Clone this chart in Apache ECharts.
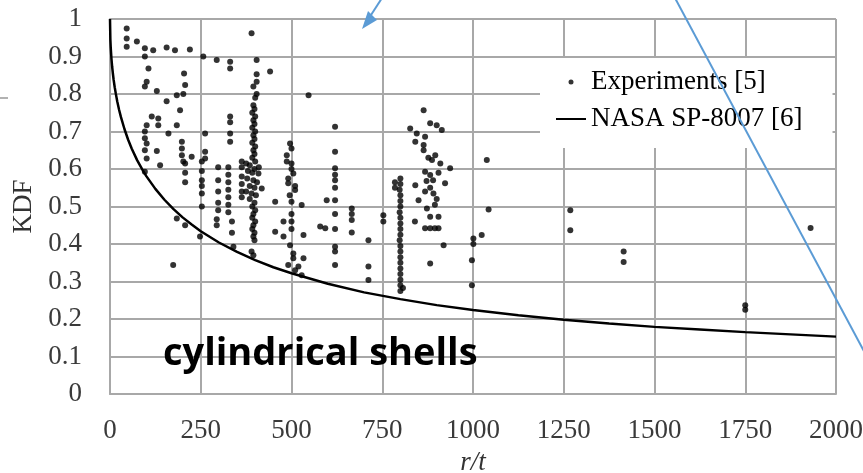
<!DOCTYPE html>
<html>
<head>
<meta charset="utf-8">
<script src="https://cdn.jsdelivr.net/npm/echarts@6/dist/echarts.min.js"></script>
<style>
  html, body { margin: 0; padding: 0; background: #fff; }
  #chart { width: 863px; height: 473px; }
</style>
</head>
<body>
<div id="chart"></div>
<script>
// Experimental knock-down factors (r/t, KDF)
const expRt = [
  46, 46, 46, 74, 96, 119, 96, 156, 179, 220, 257, 294, 331, 331, 106, 204, 101, 96, 207, 129,
  184, 202, 156, 193, 115, 133, 101, 133, 184, 96, 161, 96, 101, 129, 96, 101, 198, 198, 198, 202,
  225, 262, 262, 262, 331, 331, 331, 331, 363,
  138, 96, 174, 184, 207, 248, 253, 253, 253, 253, 253, 253, 298, 298, 298, 298, 298, 294, 294,
  326, 326, 326, 326, 326, 326, 326, 336, 336, 340, 363, 363, 363, 363, 363, 207, 207, 207,
  390, 404, 441, 404, 404, 395, 404, 400, 395, 398, 392, 400, 395, 398, 392, 400, 395, 398, 392,
  400, 395, 398, 392, 400, 375, 385, 398, 410, 380, 392, 409, 378, 395, 405, 385, 398, 418, 375,
  390, 402, 385, 398, 392, 400, 395, 392, 400, 395, 392, 398, 395, 398, 390, 395,
  496, 500, 487, 487, 500, 500, 505, 491, 491, 510, 510, 495, 500, 528, 455, 478, 500, 500, 455,
  478, 500, 533, 496, 505, 533, 491, 519, 528, 510, 505,
  620, 620, 620, 620, 620, 620, 597, 620, 593, 579, 620, 620, 620, 620, 620, 547,
  666, 666, 666, 666, 712, 712, 712, 753, 753,
  800, 800, 798, 800, 800, 800, 798, 800, 800, 800, 800, 798, 800, 800, 800, 800, 800, 800, 800,
  800, 807, 800, 785, 785,
  864, 827, 882, 900, 914, 845, 868, 841, 864, 864, 896, 887, 910, 937, 868, 882, 872, 882, 891,
  900, 923, 841, 850, 873, 882, 905, 840, 868, 882, 895, 905, 919, 882, 877, 905, 890, 868, 895,
  1001, 1024, 1001, 997, 997, 1038, 1043,
  1268, 1268, 1415, 1415, 1750, 1750, 1930
];
const expKdf = [
  0.975, 0.948, 0.926, 0.94, 0.922, 0.917, 0.90, 0.924, 0.917, 0.919, 0.90, 0.891, 0.886, 0.868, 0.868, 0.855, 0.833, 0.82, 0.824, 0.808,
  0.797, 0.80, 0.781, 0.757, 0.74, 0.735, 0.717, 0.717, 0.717, 0.70, 0.695, 0.682, 0.668, 0.648, 0.65, 0.628, 0.673, 0.655, 0.637, 0.62,
  0.633, 0.695, 0.646, 0.628, 0.74, 0.725, 0.695, 0.673, 0.62,
  0.61, 0.593, 0.344, 0.468, 0.45, 0.42, 0.62, 0.595, 0.57, 0.555, 0.535, 0.50, 0.605, 0.57, 0.54, 0.51, 0.49, 0.466, 0.45,
  0.605, 0.585, 0.565, 0.545, 0.525, 0.505, 0.485, 0.46, 0.43, 0.393, 0.605, 0.58, 0.56, 0.54, 0.525, 0.615, 0.59, 0.565,
  0.962, 0.891, 0.86, 0.853, 0.833, 0.82, 0.80, 0.79, 0.77, 0.76, 0.75, 0.74, 0.73, 0.72, 0.71, 0.70, 0.69, 0.68, 0.67,
  0.66, 0.65, 0.64, 0.63, 0.62, 0.615, 0.61, 0.60, 0.605, 0.595, 0.59, 0.588, 0.575, 0.57, 0.565, 0.555, 0.55, 0.548, 0.54,
  0.535, 0.53, 0.52, 0.51, 0.50, 0.49, 0.48, 0.47, 0.46, 0.45, 0.44, 0.43, 0.42, 0.41, 0.38, 0.37,
  0.668, 0.655, 0.637, 0.62, 0.615, 0.60, 0.588, 0.575, 0.562, 0.555, 0.544, 0.53, 0.513, 0.504, 0.513, 0.46, 0.46, 0.48, 0.433,
  0.42, 0.44, 0.424, 0.397, 0.362, 0.362, 0.344, 0.34, 0.317, 0.33, 0.375,
  0.713, 0.646, 0.602, 0.585, 0.57, 0.55, 0.517, 0.517, 0.442, 0.447, 0.44, 0.48, 0.393, 0.38, 0.344, 0.797,
  0.495, 0.48, 0.464, 0.431, 0.41, 0.34, 0.304, 0.477, 0.46,
  0.575, 0.56, 0.545, 0.53, 0.515, 0.50, 0.485, 0.47, 0.455, 0.44, 0.425, 0.41, 0.395, 0.38, 0.365, 0.35, 0.335, 0.32, 0.305,
  0.29, 0.283, 0.275, 0.565, 0.55,
  0.757, 0.708, 0.722, 0.717, 0.704, 0.695, 0.686, 0.673, 0.664, 0.65, 0.637, 0.624, 0.615, 0.602, 0.593, 0.584, 0.568, 0.55, 0.535,
  0.52, 0.562, 0.557, 0.517, 0.495, 0.473, 0.473, 0.46, 0.442, 0.442, 0.442, 0.442, 0.397, 0.348, 0.63, 0.59, 0.57, 0.54, 0.505,
  0.415, 0.424, 0.40, 0.357, 0.29, 0.624, 0.492,
  0.49, 0.437, 0.38, 0.352, 0.237, 0.225, 0.443
];

// NASA SP-8007 design curve (r/t, KDF)
const nasaRt  = [0, 1, 2, 4, 6, 8, 10, 13, 16, 20, 25, 30, 40, 50, 60, 75, 90, 100, 125, 150, 175, 200, 225, 250,
                 300, 350, 400, 450, 500, 600, 700, 800, 900, 1000, 1125, 1250, 1375, 1500, 1625, 1750, 1875, 2000];
const nasaKdf = [1.0, 0.945, 0.924, 0.894, 0.872, 0.854, 0.838, 0.818, 0.801, 0.780, 0.758, 0.739, 0.706, 0.678, 0.654, 0.623, 0.597, 0.581, 0.547, 0.518, 0.493, 0.471, 0.452, 0.434,
                 0.404, 0.379, 0.357, 0.338, 0.322, 0.294, 0.271, 0.253, 0.237, 0.224, 0.210, 0.198, 0.188, 0.179, 0.172, 0.165, 0.159, 0.153];

const seriesNames = ['Experiments [5]', 'NASA SP-8007 [6]'];
const xTicks = { min: 0, max: 2000, interval: 250 };
const yTicks = { min: 0, max: 1, interval: 0.1 };

const expData = expRt.map((r, i) => [r, expKdf[i]]);
const nasaData = nasaRt.map((r, i) => [r, nasaKdf[i]]);

const serif = '"Liberation Serif", "Times New Roman", serif';
const gridLine = { show: true, lineStyle: { color: '#a8a8a8', width: 2 } };

const chart = echarts.init(document.getElementById('chart'), null, { renderer: 'canvas' });
chart.setOption({
  animation: false,
  backgroundColor: '#ffffff',
  grid: { left: 110, right: 27, top: 19, bottom: 79, outerBoundsMode: 'none', containLabel: false },
  xAxis: {
    type: 'value',
    min: xTicks.min, max: xTicks.max, interval: xTicks.interval,
    name: 'r/t',
    nameLocation: 'middle',
    nameGap: 55,
    nameTextStyle: { fontFamily: serif, fontStyle: 'italic', fontSize: 27, color: '#333' },
    axisLine: { show: true, lineStyle: { color: '#a8a8a8', width: 2 } },
    axisTick: { show: false },
    axisLabel: {
      fontFamily: serif, fontSize: 27, color: '#3a3a3a', margin: 23,
      formatter: v => String(v)
    },
    splitLine: gridLine
  },
  yAxis: {
    type: 'value',
    min: yTicks.min, max: yTicks.max, interval: yTicks.interval,
    name: 'KDF',
    nameLocation: 'middle',
    nameGap: 64,
    nameRotate: 90,
    nameTextStyle: { fontFamily: serif, fontSize: 27, color: '#333' },
    axisLine: { show: true, lineStyle: { color: '#a8a8a8', width: 2 } },
    axisTick: { show: false },
    axisLabel: {
      fontFamily: serif, fontSize: 27, color: '#3a3a3a', margin: 28,
      formatter: v => (Math.round(v * 10) / 10).toString()
    },
    splitLine: gridLine
  },
  legend: {
    orient: 'vertical',
    left: 540,
    top: 58,
    backgroundColor: '#ffffff',
    padding: [9, 30, 14, 15],
    itemGap: 7,
    itemWidth: 30,
    itemHeight: 5,
    textStyle: { fontFamily: serif, fontSize: 27, color: '#000', lineHeight: 30 },
    data: [
      { name: seriesNames[0], icon: 'circle' },
      { name: seriesNames[1], itemStyle: { opacity: 0 } }
    ]
  },
  series: [
    {
      name: seriesNames[0],
      type: 'scatter',
      data: expData,
      symbol: 'circle',
      symbolSize: 6,
      itemStyle: { color: '#000' },
      z: 3
    },
    {
      name: seriesNames[1],
      type: 'line',
      data: nasaData,
      symbol: 'none',
      showSymbol: false,
      smooth: false,
      lineStyle: { color: '#000', width: 2.5 },
      itemStyle: { color: '#000' },
      z: 4
    }
  ],
  graphic: [
    {
      type: 'text',
      left: 163,
      top: 335,
      z: 10,
      style: {
        text: 'cylindrical shells',
        font: 'bold 38px "Open Sans", "Noto Sans", sans-serif',
        fill: '#000'
      }
    },
    // callout arrow pointing into the plot
    {
      type: 'line',
      z: 10,
      shape: { x1: 382, y1: -2, x2: 371, y2: 15 },
      style: { stroke: '#5b9bd5', lineWidth: 2 }
    },
    {
      type: 'polygon',
      z: 10,
      shape: { points: [[362, 29], [377, 20], [368, 11]] },
      style: { fill: '#5b9bd5' }
    },
    // long callout line
    {
      type: 'line',
      z: 10,
      shape: { x1: 675, y1: -2, x2: 866, y2: 355 },
      style: { stroke: '#5b9bd5', lineWidth: 2 }
    },
    {
      type: 'line',
      z: 10,
      shape: { x1: 0, y1: 98, x2: 8, y2: 98 },
      style: { stroke: '#999', lineWidth: 1.5 }
    }
  ]
});
</script>
</body>
</html>
